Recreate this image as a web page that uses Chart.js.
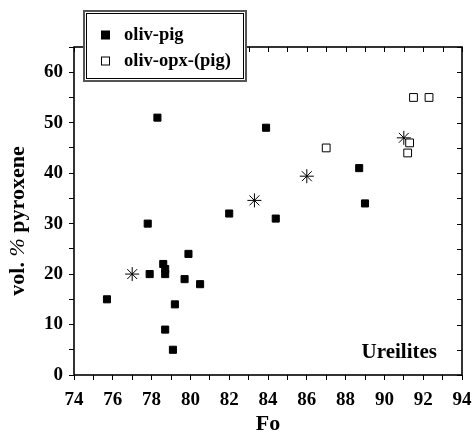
<!DOCTYPE html>
<html>
<head>
<meta charset="utf-8">
<script src="https://cdn.jsdelivr.net/npm/chart.js@4.4.0/dist/chart.umd.min.js"></script>
<style>
  html, body { margin: 0; padding: 0; background: #fff; }
  #wrap { width: 475px; height: 434px; }
</style>
</head>
<body>
<div id="wrap"><canvas id="grafico" width="475" height="434"></canvas></div>
<script>
// Ureilitas: % de piroxeno frente a Fo del olivino
var fuente = "'Liberation Serif', 'Times New Roman', serif";

// oliv-pig (cuadrados rellenos)
var foOlivPig = [75.7, 77.9, 78.6, 78.7, 78.7, 79.9, 79.7, 80.5, 79.2, 78.7, 79.1, 78.3, 77.8, 82.0, 83.9, 84.4, 88.7, 89.0];
var pxOlivPig = [15, 20, 22, 21, 20, 24, 19, 18, 14, 9, 5, 51, 30, 32, 49, 31, 41, 34];

// oliv-opx-(pig) (cuadrados vacíos)
var foOlivOpx = [87.0, 91.5, 92.3, 91.3, 91.2];
var pxOlivOpx = [45, 55, 55, 46, 44];

// asteriscos
var foAsterisco = [77.0, 83.3, 86.0, 91.0];
var pxAsterisco = [20, 34.6, 39.4, 47];

var etiquetasX = [74, 76, 78, 80, 82, 84, 86, 88, 90, 92, 94];
var etiquetasY = [0, 10, 20, 30, 40, 50, 60];

function puntos(xs, ys) {
    return xs.map(function(x, i) { return { x: x, y: ys[i] }; });
}

// Marco con marcas hacia dentro arriba y a la derecha, títulos y leyenda
var marco = {
    id: 'marco',
    afterDatasetsDraw: function(chart) {
        var ctx = chart.ctx, a = chart.chartArea;
        var sx = chart.scales.x, sy = chart.scales.y;
        ctx.save();
        ctx.strokeStyle = '#000';
        ctx.lineWidth = 1;
        ctx.beginPath();
        sx.ticks.forEach(function(t) {
            var px = Math.round(sx.getPixelForValue(t.value)) + 0.5;
            ctx.moveTo(px, a.top);
            ctx.lineTo(px, a.top + 5);
        });
        sy.ticks.forEach(function(t) {
            var py = Math.round(sy.getPixelForValue(t.value)) + 0.5;
            ctx.moveTo(a.right, py);
            ctx.lineTo(a.right - 5, py);
        });
        ctx.stroke();
        ctx.lineWidth = 1.6;
        ctx.strokeRect(a.left, a.top, a.right - a.left, a.bottom - a.top);

        ctx.fillStyle = '#000';
        ctx.textBaseline = 'middle';
        ctx.font = 'bold 22px ' + fuente;
        ctx.textAlign = 'center';
        ctx.fillText('Fo', (a.left + a.right) / 2, 424);

        ctx.textAlign = 'right';
        ctx.font = 'bold 21px ' + fuente;
        ctx.fillText('Ureilites', 437, 353);

        // título del eje y, con el % en cursiva
        ctx.translate(18, 221);
        ctx.rotate(-Math.PI / 2);
        var partes = [['vol. ', 'bold 22px '], ['%', 'italic 22px '], [' pyroxene', 'bold 22px ']];
        var total = 0;
        partes.forEach(function(p) { ctx.font = p[1] + fuente; total += ctx.measureText(p[0]).width; });
        var xx = -total / 2;
        ctx.textAlign = 'left';
        partes.forEach(function(p) {
            ctx.font = p[1] + fuente;
            ctx.fillText(p[0], xx, 0);
            xx += ctx.measureText(p[0]).width;
        });
        ctx.restore();
    },
    afterDraw: function(chart) {
        var ctx = chart.ctx;
        ctx.save();
        ctx.fillStyle = '#fff';
        ctx.fillRect(83, 10, 164, 72);
        ctx.strokeStyle = '#555';
        ctx.lineWidth = 2;
        ctx.strokeRect(84, 11, 162, 70);
        ctx.strokeStyle = '#000';
        ctx.lineWidth = 1;
        ctx.strokeRect(86.5, 13.5, 157, 65);

        var ds = chart.data.datasets;
        ctx.font = 'bold 18.5px ' + fuente;
        ctx.textBaseline = 'middle';
        ctx.textAlign = 'left';
        [0, 1].forEach(function(i, k) {
            var y = 35 + k * 26;
            ctx.fillStyle = ds[i].backgroundColor;
            ctx.strokeStyle = '#000';
            ctx.fillRect(101.5, y - 4, 8, 8);
            ctx.strokeRect(101.5, y - 4, 8, 8);
            ctx.fillStyle = '#000';
            ctx.fillText(ds[i].label, 124, y);
        });
        ctx.restore();
    }
};

new Chart(document.getElementById('grafico'), {
    type: 'scatter',
    data: {
        datasets: [{
            label: 'oliv-pig',
            data: puntos(foOlivPig, pxOlivPig),
            pointStyle: 'rect',
            pointRadius: 5,
            backgroundColor: '#000',
            borderColor: '#000',
            borderWidth: 1,
            order: 2
        }, {
            label: 'oliv-opx-(pig)',
            data: puntos(foOlivOpx, pxOlivOpx),
            pointStyle: 'rect',
            pointRadius: 5.5,
            backgroundColor: '#fff',
            borderColor: '#000',
            borderWidth: 1,
            order: 1
        }, {
            label: 'asterisco',
            data: puntos(foAsterisco, pxAsterisco),
            pointStyle: 'star',
            pointRadius: 7,
            backgroundColor: '#000',
            borderColor: '#000',
            borderWidth: 1,
            order: 3
        }]
    },
    options: {
        responsive: false,
        animation: false,
        devicePixelRatio: 1,
        layout: { padding: { top: 47, right: 13, left: 0, bottom: 0 } },
        plugins: { legend: { display: false }, tooltip: { enabled: false } },
        scales: {
            x: {
                type: 'linear',
                min: 74, max: 94,
                afterFit: function(s) { s.height = 59; s.paddingLeft = 0; s.paddingRight = 0; },
                border: { display: false },
                grid: { drawOnChartArea: false, tickLength: 5, color: '#000' },
                ticks: {
                    stepSize: 1, autoSkip: false, maxRotation: 0, padding: 9, color: '#000',
                    font: { family: fuente, size: 19, weight: 'bold' },
                    callback: function(v) { return etiquetasX.indexOf(v) >= 0 ? String(v) : ''; }
                }
            },
            y: {
                type: 'linear',
                min: 0, max: 65,
                afterFit: function(s) { s.width = 74; s.paddingTop = 0; s.paddingBottom = 0; },
                border: { display: false },
                grid: { drawOnChartArea: false, tickLength: 5, color: '#000' },
                ticks: {
                    stepSize: 5, autoSkip: false, padding: 6, color: '#000',
                    font: { family: fuente, size: 19, weight: 'bold' },
                    callback: function(v) { return etiquetasY.indexOf(v) >= 0 ? String(v) : ''; }
                }
            }
        }
    },
    plugins: [marco]
});
</script>
</body>
</html>
